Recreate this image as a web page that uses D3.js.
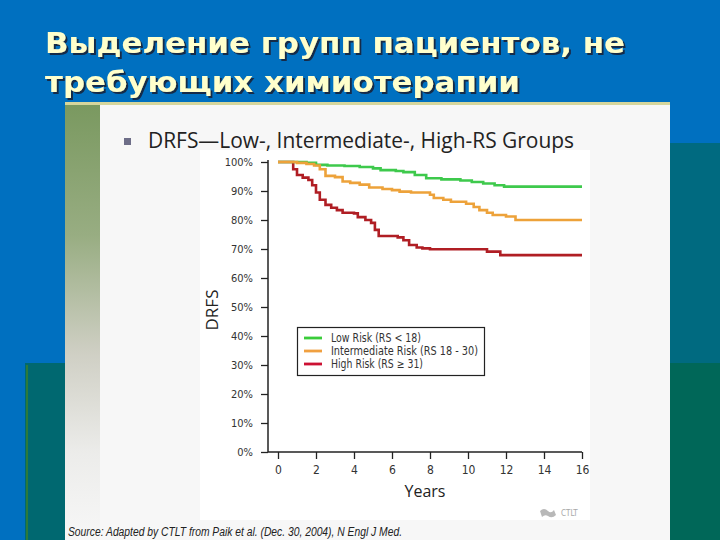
<!DOCTYPE html>
<html><head><meta charset="utf-8">
<script src="https://cdn.jsdelivr.net/npm/d3@7"></script>
<style>html,body{margin:0;padding:0;background:#0070C0;}svg{display:block;}</style>
</head><body>
<svg id="c" width="720" height="540"></svg>
<script>
// ---- data ----
const titleLines = ["Выделение групп пациентов, не", "требующих химиотерапии"];
const subtitle = "DRFS\u2014Low-, Intermediate-, High-RS Groups";
const yTicks = [0, 10, 20, 30, 40, 50, 60, 70, 80, 90, 100];
const xTicks = [0, 2, 4, 6, 8, 10, 12, 14, 16];
const seriesNames = ["Low Risk (RS < 18)", "Intermediate Risk (RS 18 - 30)", "High Risk (RS \u2265 31)"];
const lowYears = [0, 1.5, 2.0, 2.6, 3.5, 4.3, 5.0, 5.4, 6.2, 6.6, 7.2, 7.8, 8.6, 9.6, 10.2, 10.8, 11.4, 11.9, 16];
const lowValues = [100, 99.7, 99.0, 98.8, 98.6, 98.3, 97.8, 97.2, 96.9, 96.5, 95.5, 94.4, 94.0, 93.6, 93.1, 92.6, 92.0, 91.5, 91.5];
const intYears = [0, 1.0, 1.5, 1.9, 2.2, 2.5, 3.0, 3.4, 3.8, 4.3, 4.8, 5.5, 6.0, 6.4, 7.0, 8.0, 8.2, 8.7, 9.1, 9.9, 10.3, 10.6, 11.0, 11.3, 12.0, 12.5, 16];
const intValues = [100, 99.7, 99.3, 98.8, 97.5, 95.2, 94.8, 93.3, 92.8, 92.2, 91.2, 90.7, 90.3, 89.8, 89.5, 88.7, 87.6, 87.0, 86.3, 85.6, 84.5, 83.4, 82.5, 81.7, 81.2, 80.0, 80.0];
const highYears = [0, 0.6, 0.8, 1.0, 1.3, 1.6, 1.8, 2.0, 2.2, 2.5, 2.8, 3.1, 3.4, 4.0, 4.2, 4.6, 4.9, 5.1, 5.3, 6.3, 6.6, 6.9, 7.3, 7.6, 8.0, 10.8, 11.0, 11.7, 16];
const highValues = [100, 100, 97.5, 95.5, 94.6, 93.8, 92.0, 89.5, 87.0, 85.2, 84.2, 83.4, 82.5, 82.3, 81.0, 80.0, 79.0, 76.6, 74.5, 74.0, 73.0, 71.4, 70.5, 70.2, 69.9, 69.9, 69.1, 67.9, 67.9];
const seriesColors = ["#3EC94C", "#EDA23A", "#B01E24"];
const legendColors = ["#3ACC3A", "#F0A040", "#CC1133"];
const sourceText = "Source: Adapted by CTLT from Paik et al. (Dec. 30, 2004), N Engl J Med.";

const svg = d3.select("#c");

// ---- slide background ----
svg.append("rect").attr("x",0).attr("y",0).attr("width",720).attr("height",540).attr("fill","#0070C0");
svg.append("rect").attr("x",670).attr("y",143).attr("width",50).attr("height",222).attr("fill","#006A80");
svg.append("rect").attr("x",670).attr("y",363).attr("width",50).attr("height",177).attr("fill","#006758");
svg.append("rect").attr("x",25).attr("y",363).attr("width",40).attr("height",177).attr("fill","#006870");
svg.append("rect").attr("x",26).attr("y",365).attr("width",2).attr("height",175).attr("fill","#2C7A3C");

const defs = svg.append("defs");
const g1 = defs.append("linearGradient").attr("id","strip").attr("x1",0).attr("y1",0).attr("x2",0).attr("y2",1);
[[0,"#7A9960"],[0.3,"#98AD82"],[0.57,"#CFCFC4"],[0.8,"#ECECEA"],[1,"#F7F7F7"]].forEach(s=>g1.append("stop").attr("offset",s[0]).attr("stop-color",s[1]));
const f = defs.append("filter").attr("id","shadow").attr("x","-5%").attr("y","-20%").attr("width","110%").attr("height","150%");
f.append("feDropShadow").attr("dx",2).attr("dy",2).attr("stdDeviation",0.6).attr("flood-color","#14233a").attr("flood-opacity",0.9);

svg.append("rect").attr("x",65).attr("y",103).attr("width",605).attr("height",437).attr("fill","#F7F7F7");
svg.append("rect").attr("x",65).attr("y",105).attr("width",35).attr("height",435).attr("fill","url(#strip)");
svg.append("rect").attr("x",65).attr("y",102).attr("width",605).attr("height",3).attr("fill","#D6D69C");
svg.append("rect").attr("x",200).attr("y",150).attr("width",390).attr("height",370).attr("fill","#FFFFFF");

// ---- title ----
titleLines.forEach((t,i)=>{
  const yy = [53, 92][i];
  const w = [580, 475][i];
  svg.append("text").attr("x",45).attr("y",yy).text(t)
    .attr("font-family","DejaVu Sans").attr("font-weight","bold").attr("font-size",27.5)
    .attr("textLength",w).attr("lengthAdjust","spacingAndGlyphs").attr("fill","#FFFFCC")
    .attr("filter","url(#shadow)");
});

// ---- subtitle ----
svg.append("rect").attr("x",124).attr("y",138).attr("width",7).attr("height",7).attr("fill","#6E6E88");
svg.append("text").attr("x",148).attr("y",148).text(subtitle)
  .attr("font-family","'Open Sans', sans-serif").attr("font-size",21)
  .attr("textLength",426).attr("lengthAdjust","spacingAndGlyphs").attr("fill","#222");

// ---- chart ----
const x = d3.scaleLinear().domain([0,16]).range([278,582]);
const y = d3.scaleLinear().domain([0,100]).range([452,162]);
const axisFont = "'Liberation Sans Narrow','DejaVu Sans Condensed',sans-serif";

const yAxis = svg.append("g").attr("transform","translate(268,0)")
  .call(d3.axisLeft(y).tickValues(yTicks).tickFormat(d=>d+"%").tickSize(7).tickPadding(8));
yAxis.select(".domain").attr("d","M0,160V452").attr("stroke","#222").attr("stroke-width",1.5);
yAxis.selectAll(".tick line").attr("stroke","#222").attr("stroke-width",1.3);
yAxis.selectAll(".tick text").attr("font-family",axisFont).attr("font-size",11).attr("fill","#333");

const xAxis = svg.append("g").attr("transform","translate(0,452)")
  .call(d3.axisBottom(x).tickValues(xTicks).tickSize(7).tickPadding(6));
xAxis.select(".domain").attr("d","M268,0H582").attr("stroke","#222").attr("stroke-width",1.5);
xAxis.selectAll(".tick line").attr("stroke","#222").attr("stroke-width",1.3);
xAxis.selectAll(".tick text").attr("font-family",axisFont).attr("font-size",12).attr("fill","#333");

svg.append("text").attr("x",425).attr("y",497).attr("text-anchor","middle").text("Years")
  .attr("font-family","'Open Sans',sans-serif").attr("font-size",16).attr("fill","#222");
svg.append("text").attr("transform","translate(218,310) rotate(-90)").attr("text-anchor","middle").text("DRFS")
  .attr("font-family","'Open Sans',sans-serif").attr("font-size",17).attr("fill","#222");

const series = [
  lowYears.map((t,i)=>[t, lowValues[i]]),
  intYears.map((t,i)=>[t, intValues[i]]),
  highYears.map((t,i)=>[t, highValues[i]])
];
const line = d3.line().x(d=>x(d[0])).y(d=>y(d[1])).curve(d3.curveStepAfter);
[2,0,1].forEach(k=>{
  svg.append("path").attr("d",line(series[k])).attr("fill","none")
    .attr("stroke",seriesColors[k]).attr("stroke-width",2.6);
});

// ---- legend ----
const legendWidths = [90, 147, 92];
const lg = svg.append("g");
lg.append("rect").attr("x",297.5).attr("y",327.5).attr("width",187).attr("height",48)
  .attr("fill","#fff").attr("stroke","#222").attr("stroke-width",1.2);
seriesNames.forEach((n,i)=>{
  const cy = 338 + i*13;
  lg.append("line").attr("x1",304).attr("x2",322).attr("y1",cy).attr("y2",cy)
    .attr("stroke",legendColors[i]).attr("stroke-width",2.8);
  lg.append("text").attr("x",331).attr("y",cy+4).text(n)
    .attr("font-family",axisFont).attr("font-size",11.5).attr("fill","#333")
    .attr("textLength",legendWidths[i]).attr("lengthAdjust","spacingAndGlyphs");
});

// ---- logo & source ----
svg.append("path").attr("d","M540,511 q4,-4 8,0 q3,3 6,-1 l2,5 q-4,4 -8,1 q-3,-2 -6,1 z").attr("fill","#B8B8B8");
svg.append("text").attr("x",561).attr("y",516).text("CTLT").attr("font-family",axisFont)
  .attr("font-size",8).attr("fill","#A8A8A8");
svg.append("text").attr("x",68).attr("y",536).text(sourceText)
  .attr("font-family","'Liberation Sans',Arial,sans-serif").attr("font-style","italic").attr("font-size",12.5)
  .attr("textLength",334).attr("lengthAdjust","spacingAndGlyphs").attr("fill","#222");
</script>
</body></html>
